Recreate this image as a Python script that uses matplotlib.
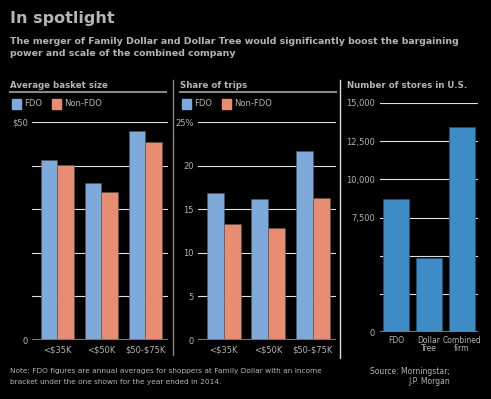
import numpy as np
import matplotlib.pyplot as plt
from matplotlib.patches import Rectangle
from matplotlib.lines import Line2D

# chart data
income_groups = ['<\\$35K', '<\\$50K', '\\$50-\\$75K']
legend_names = ['FDO', 'Non-FDO']

basket_fdo = [41.3, 36.0, 47.9]
basket_other = [40.1, 33.9, 45.4]

trips_fdo = [16.9, 16.2, 21.7]
trips_other = [13.3, 12.8, 16.3]

store_names = ['FDO', 'Dollar\nTree', 'Combined\nfirm']
store_counts = [8700, 4850, 13450]

blue = '#7eaadb'
salmon = '#e98d72'
dark_blue = '#3d8cc6'
txt = '#b4b4b4'
bg = 'black'

W, H = 491, 399
fig = plt.figure(figsize=(W / 100, H / 100), dpi=100, facecolor=bg)
plt.rcParams['font.family'] = ['DejaVu Sans']


def px_axes(x0, y0, x1, y1):
    # axes placed with pixel coords measured from top-left
    ax = fig.add_axes([x0 / W, 1 - y1 / H, (x1 - x0) / W, (y1 - y0) / H])
    ax.set_facecolor(bg)
    for s in ax.spines.values():
        s.set_visible(False)
    ax.tick_params(length=0, colors=txt, labelsize=6)
    return ax


def ftext(x, y, s, **kw):
    kw.setdefault('color', txt)
    kw.setdefault('va', 'center')
    fig.text(x / W, 1 - y / H, s, **kw)


# header
ftext(10, 18, 'In spotlight', fontsize=11.5, fontweight='bold')
ftext(10, 41, 'The merger of Family Dollar and Dollar Tree would significantly boost the bargaining',
      fontsize=6.75, fontweight='bold')
ftext(10, 54, 'power and scale of the combined company', fontsize=6.75, fontweight='bold')

# frame lines between panels
fig.add_artist(Line2D([173 / W, 173 / W], [1 - 80 / H, 1 - 355 / H], color='#888888', lw=1))
fig.add_artist(Line2D([340 / W, 340 / W], [1 - 80 / H, 1 - 358 / H], color='#dddddd', lw=1))
fig.add_artist(Line2D([10 / W, 166 / W], [1 - 92 / H, 1 - 92 / H], color='#888888', lw=1.5))
fig.add_artist(Line2D([180 / W, 336 / W], [1 - 92 / H, 1 - 92 / H], color='#888888', lw=1.5))


def legend_row(x, y):
    fig.add_artist(Rectangle((x / W, 1 - (y + 5) / H), 9 / W, 10 / H, color=blue,
                             transform=fig.transFigure))
    ftext(x + 12, y, legend_names[0], fontsize=6)
    fig.add_artist(Rectangle(((x + 40) / W, 1 - (y + 5) / H), 9 / W, 10 / H, color=salmon,
                             transform=fig.transFigure))
    ftext(x + 52, y, legend_names[1], fontsize=6)


def grouped(ax, a, b, top, labels):
    x = np.arange(len(income_groups))
    ax.set_ylim(0, top)
    ax.set_xlim(-0.58, 2.52)
    for v in np.linspace(0, top, 6)[1:]:
        ax.axhline(v, color='#e0e0e0', lw=0.8, zorder=0)
    ax.bar(x - 0.19, a, 0.38, color=blue, edgecolor='#555555', lw=0.4, zorder=2)
    ax.bar(x + 0.19, b, 0.38, color=salmon, edgecolor='#555555', lw=0.4, zorder=2)
    ax.axhline(0, color='#777777', lw=1.5, zorder=3)
    ax.set_xticks(x)
    ax.set_xticklabels(income_groups)
    ax.set_yticks(np.linspace(0, top, 6))
    ax.set_yticklabels(labels)
    ax.tick_params(axis='x', pad=4)
    ax.tick_params(axis='y', pad=3)


# panel 1
ftext(10, 85, 'Average basket size', fontsize=6.2, fontweight='bold')
legend_row(12, 104)
ax1 = px_axes(32, 122, 168, 340)
grouped(ax1, basket_fdo, basket_other, 50, ['0', '', '', '', '', '\\$50'])

# panel 2
ftext(180, 85, 'Share of trips', fontsize=6.2, fontweight='bold')
legend_row(182, 104)
ax2 = px_axes(198, 122, 336, 340)
grouped(ax2, trips_fdo, trips_other, 25, ['0', '5', '10', '15', '20', '25%'])

# panel 3
ftext(347, 85, 'Number of stores in U.S.', fontsize=6.2, fontweight='bold')
ax3 = px_axes(380, 103, 478, 332)
ax3.set_ylim(0, 15000)
ax3.set_xlim(-0.5, 2.5)
for v in np.arange(2500, 15001, 2500):
    ax3.axhline(v, color='#e0e0e0', lw=0.8, zorder=0)
ax3.bar(np.arange(3), store_counts, 0.8, color=dark_blue, edgecolor='#1f4f7a', lw=0.5, zorder=2)
ax3.axhline(0, color='#777777', lw=1.5, zorder=3)
ax3.set_xticks(np.arange(3))
ax3.set_xticklabels(store_names, fontsize=5.5, linespacing=0.9)
ax3.set_yticks(np.arange(0, 15001, 2500))
ax3.set_yticklabels(['0', '', '', '7,500', '10,000', '12,500', '15,000'])
ax3.tick_params(axis='x', pad=3)

# footer
ftext(10, 371, 'Note: FDO figures are annual averages for shoppers at Family Dollar with an income',
      fontsize=5.3)
ftext(10, 382, 'bracket under the one shown for the year ended in 2014.', fontsize=5.3)
ftext(450, 371, 'Source: Morningstar;', fontsize=5.5, ha='right')
ftext(450, 382, 'J.P. Morgan', fontsize=5.5, ha='right')

fig.savefig('out.png', dpi=100, facecolor=bg)
